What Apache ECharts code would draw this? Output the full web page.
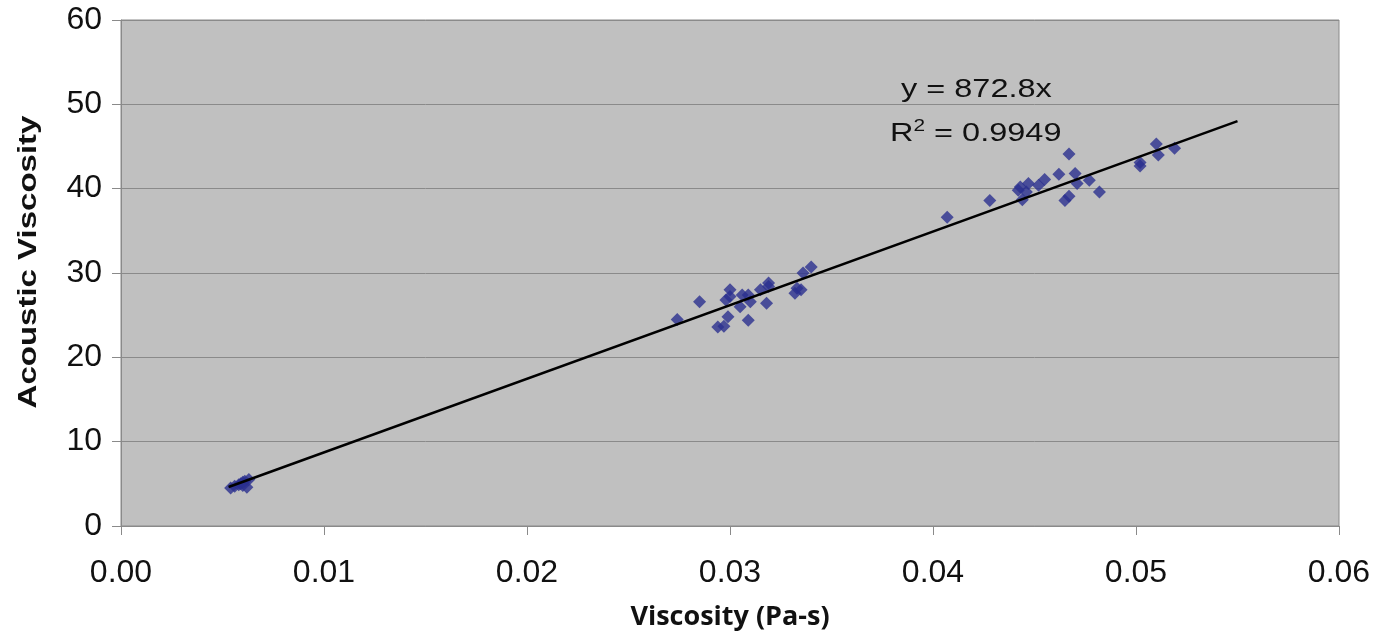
<!DOCTYPE html>
<html>
<head>
<meta charset="utf-8">
<script src="https://cdn.jsdelivr.net/npm/echarts@6/dist/echarts.min.js"></script>
<style>
  html, body { margin: 0; padding: 0; background: #fff; }
</style>
</head>
<body>
<!-- chart container -->
<div id="main" style="width: 1387px; height: 637px"></div>
<script>
// measured points: [viscosity Pa-s, acoustic viscosity]
var lowCluster = [
  [0.0054, 4.5], [0.0056, 4.7], [0.0058, 4.9], [0.0059, 5.0], [0.0060, 4.8],
  [0.0060, 5.2], [0.0061, 5.3], [0.0062, 4.6], [0.0063, 5.5]
];
var midCluster = [
  [0.0274, 24.5], [0.0285, 26.6], [0.0294, 23.6], [0.0297, 23.7], [0.0299, 24.8],
  [0.0298, 26.8], [0.0300, 28.0], [0.0300, 27.2], [0.0305, 26.0], [0.0306, 27.4],
  [0.0309, 27.4], [0.0309, 24.4], [0.0310, 26.6], [0.0315, 28.0], [0.0319, 28.4],
  [0.0319, 28.8], [0.0318, 26.4], [0.0332, 27.6], [0.0333, 28.2], [0.0335, 28.0],
  [0.0336, 30.0], [0.0340, 30.7]
];
var highCluster = [
  [0.0407, 36.6], [0.0428, 38.6], [0.0442, 39.8], [0.0443, 40.2], [0.0444, 38.7],
  [0.0446, 39.6], [0.0447, 40.6], [0.0452, 40.4], [0.0455, 41.1], [0.0462, 41.7],
  [0.0467, 44.1], [0.0465, 38.6], [0.0467, 39.1], [0.0470, 41.8], [0.0471, 40.6],
  [0.0477, 41.0], [0.0482, 39.6], [0.0502, 43.1], [0.0502, 42.7], [0.0510, 45.3],
  [0.0511, 44.0], [0.0519, 44.8]
];
// trendline y = 872.8x
var slope = 872.8;
var trendX = [0.0053, 0.0550];
var xTicks = ["0.00", "0.01", "0.02", "0.03", "0.04", "0.05", "0.06"];

var points = lowCluster.concat(midCluster, highCluster);
var trend = trendX.map(function (x) { return [x, slope * x]; });

var chart = echarts.init(document.getElementById("main"));
chart.setOption({
  animation: false,
  grid: {
    left: 121,
    top: 20,
    width: 1218,
    height: 506,
    show: true,
    backgroundColor: "#c0c0c0",
    borderColor: "#8a8a8a",
    borderWidth: 1
  },
  xAxis: {
    type: "value",
    min: 0,
    max: 0.06,
    interval: 0.01,
    name: "Viscosity (Pa-s)",
    nameLocation: "middle",
    nameGap: 78,
    nameTextStyle: { fontFamily: "Open Sans", fontWeight: "bold", fontSize: 27, color: "#111" },
    axisLine: { show: true, lineStyle: { color: "#8a8a8a", width: 1 } },
    axisTick: { show: true, length: 9, lineStyle: { color: "#8a8a8a" } },
    axisLabel: {
      margin: 31,
      fontFamily: "Liberation Sans",
      fontSize: 32,
      color: "#111",
      formatter: function (v) { return xTicks[Math.round(v * 100)]; }
    },
    splitLine: { show: false }
  },
  yAxis: {
    type: "value",
    min: 0,
    max: 60,
    interval: 10,
    axisLine: { show: true, lineStyle: { color: "#8a8a8a", width: 1 } },
    axisTick: { show: true, length: 9, lineStyle: { color: "#8a8a8a" } },
    axisLabel: { margin: 19, fontFamily: "Liberation Sans", fontSize: 32, color: "#111" },
    splitLine: { show: true, lineStyle: { color: "#8a8a8a", width: 1 } }
  },
  graphic: [
    {
      // y axis title, stretched along its length like the original
      type: "text",
      x: 29,
      y: 262,
      rotation: Math.PI / 2,
      scaleX: 1.32,
      style: {
        text: "Acoustic Viscosity",
        fontFamily: "Liberation Sans",
        fontWeight: "bold",
        fontSize: 25,
        fill: "#111",
        align: "center",
        verticalAlign: "middle"
      }
    },
    {
      type: "text",
      x: 901,
      y: 78,
      scaleX: 1.3,
      style: { text: "y = 872.8x", fontFamily: "Liberation Sans", fontSize: 25, fill: "#111" }
    },
    {
      type: "text",
      x: 890,
      y: 119,
      scaleX: 1.3,
      style: {
        text: "{r|R}{s|2}{r| = 0.9949}",
        rich: {
          r: { fontFamily: "Liberation Sans", fontSize: 25, fill: "#111", verticalAlign: "bottom" },
          s: { fontFamily: "Liberation Sans", fontSize: 16, fill: "#111", verticalAlign: "top", padding: [0, 0, 12, 0] }
        }
      }
    }
  ],
  series: [
    {
      name: "Data",
      type: "scatter",
      symbol: "diamond",
      symbolSize: [13, 13],
      itemStyle: { color: "#2b2f8e" },
      data: points,
      z: 2
    },
    {
      name: "Linear",
      type: "line",
      data: trend,
      symbol: "none",
      lineStyle: { color: "#000", width: 2.5 },
      z: 3
    }
  ]
});
</script>
</body>
</html>
